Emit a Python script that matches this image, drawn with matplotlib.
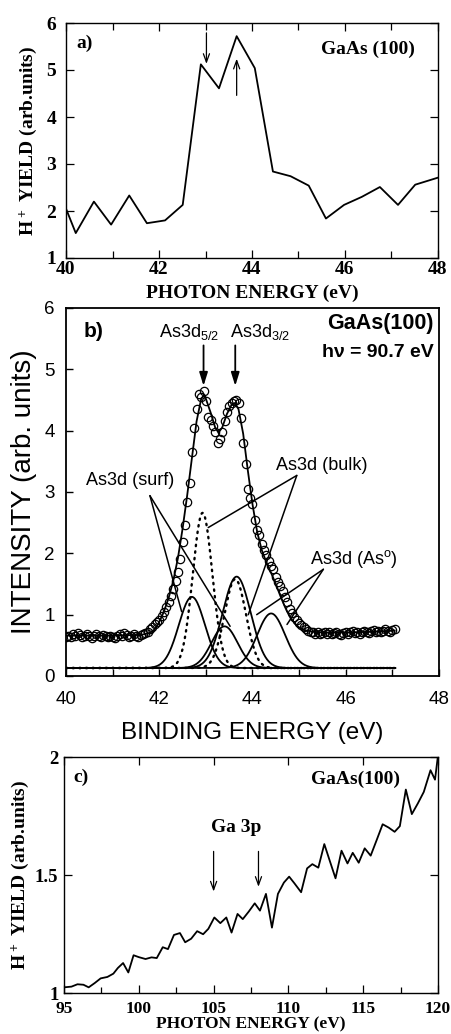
import numpy as np
import matplotlib
matplotlib.use("Agg")
import matplotlib.pyplot as plt
from matplotlib.ticker import MultipleLocator, FixedLocator, FixedFormatter

SERIF = "Liberation Serif"
SANS = "Liberation Sans"

# ---- a) H+ yield across the As 3d edge
a_energy = [40.0, 40.21, 40.6, 40.97, 41.36, 41.74, 42.13, 42.51, 42.9, 43.29, 43.67,
            44.06, 44.45, 44.83, 45.22, 45.59, 45.98, 46.36, 46.75, 47.14, 47.51, 48.0]
a_yield = [2.05, 1.53, 2.2, 1.71, 2.33, 1.74, 1.8, 2.13, 5.12, 4.61, 5.72,
           5.04, 2.84, 2.74, 2.54, 1.84, 2.13, 2.3, 2.51, 2.13, 2.56, 2.71]
a_arrows = [(43.02, 5.79, 5.13), (43.67, 4.46, 5.24)]   # x, from, to

# ---- b) As 3d core level, hv = 90.7 eV
b_start, b_step = 40.0, 0.05
b_counts = [
    0.63, 0.66, 0.64, 0.68, 0.66, 0.70, 0.67, 0.64, 0.66, 0.68,   # 40.00
    0.65, 0.62, 0.66, 0.68, 0.66, 0.64, 0.67, 0.65, 0.63, 0.66,   # 40.50
    0.64, 0.62, 0.65, 0.68, 0.66, 0.70, 0.67, 0.64, 0.66, 0.69,   # 41.00
    0.66, 0.64, 0.67, 0.69, 0.70, 0.72, 0.76, 0.80, 0.84, 0.88,   # 41.50
    0.92, 0.98, 1.05, 1.12, 1.20, 1.30, 1.42, 1.55, 1.70, 1.90,   # 42.00
    2.18, 2.46, 2.84, 3.15, 3.65, 4.05, 4.35, 4.60, 4.55, 4.65,   # 42.50
    4.48, 4.22, 4.18, 4.08, 3.98, 3.80, 3.86, 3.98, 4.15, 4.30,   # 43.00
    4.40, 4.45, 4.48, 4.50, 4.45, 4.20, 3.80, 3.45, 3.05, 2.90,   # 43.50
    2.80, 2.55, 2.38, 2.30, 2.15, 2.05, 1.97, 1.88, 1.80, 1.74,   # 44.00
    1.62, 1.53, 1.46, 1.38, 1.28, 1.20, 1.10, 1.02, 0.96, 0.91,   # 44.50
    0.87, 0.83, 0.80, 0.77, 0.74, 0.71, 0.72, 0.69, 0.71, 0.68,   # 45.00
    0.70, 0.72, 0.69, 0.71, 0.68, 0.70, 0.72, 0.69, 0.67, 0.70,   # 45.50
    0.72, 0.69, 0.71, 0.74, 0.70, 0.72, 0.69, 0.71, 0.74, 0.72,   # 46.00
    0.70, 0.73, 0.75, 0.72, 0.74, 0.71, 0.73, 0.76, 0.74, 0.72,   # 46.50
    0.75, 0.77,                                                   # 47.00
]
b_fit_x = [40.0, 41.0, 41.6, 41.8, 41.9, 42.0, 42.1, 42.2, 42.3, 42.4, 42.5, 42.6, 42.7,
           42.8, 42.9, 42.95, 43.0, 43.1, 43.2, 43.27, 43.35, 43.45, 43.55, 43.62, 43.7,
           43.8, 43.9, 44.0, 44.1, 44.2, 44.3, 44.4, 44.5, 44.6, 44.7, 44.8, 44.9, 45.0,
           45.1, 45.3, 45.6, 46.0, 46.5, 47.05]
b_fit_y = [0.66, 0.66, 0.67, 0.70, 0.76, 0.88, 1.05, 1.27, 1.55, 1.92, 2.40, 2.95, 3.55,
           4.15, 4.52, 4.57, 4.52, 4.30, 4.05, 3.97, 4.05, 4.27, 4.42, 4.45, 4.35,
           3.95, 3.35, 2.80, 2.35, 2.05, 1.85, 1.68, 1.50, 1.30, 1.12, 0.97, 0.86, 0.79,
           0.75, 0.72, 0.71, 0.71, 0.72, 0.74]
b_base = 0.13
b_comp_end = 47.06
# fitted components: centre (eV), height above base, gaussian sigma (eV), dotted?
b_comp_center = [42.70, 43.40, 42.93, 43.63, 43.66, 44.40]
b_comp_height = [1.16, 0.68, 2.53, 1.45, 1.49, 0.89]
b_comp_sigma = [0.28, 0.28, 0.21, 0.23, 0.30, 0.30]
b_comp_dotted = [False, False, True, True, False, False]

# ---- c) H+ yield across the Ga 3p edge
c_energy = [95.0, 95.5, 95.9, 96.3, 96.65, 97.05, 97.45, 97.9, 98.3, 98.6, 98.95, 99.3,
            99.65, 100.0, 100.45, 100.85, 101.2, 101.6, 101.95, 102.35, 102.75, 103.1,
            103.5, 103.9, 104.3, 104.65, 105.05, 105.45, 105.85, 106.2, 106.6, 106.95,
            107.35, 107.75, 108.1, 108.5, 108.9, 109.3, 109.7, 110.05, 110.4, 110.85,
            111.25, 111.6, 112.0, 112.4, 112.75, 113.15, 113.55, 113.95, 114.3, 114.7,
            115.1, 115.5, 115.9, 116.3, 116.7, 117.1, 117.45, 117.85, 118.25, 118.65,
            119.05, 119.5, 119.8, 120.0]
c_yield = [1.024, 1.027, 1.037, 1.035, 1.024, 1.042, 1.062, 1.068, 1.082, 1.106, 1.127, 1.087,
           1.16, 1.152, 1.144, 1.151, 1.148, 1.194, 1.186, 1.246, 1.254, 1.215,
           1.23, 1.262, 1.249, 1.272, 1.32, 1.296, 1.32, 1.256, 1.335, 1.313,
           1.345, 1.38, 1.349, 1.42, 1.277, 1.42, 1.468, 1.493, 1.465, 1.427,
           1.528, 1.546, 1.531, 1.631, 1.563, 1.486, 1.603, 1.549, 1.594, 1.552,
           1.613, 1.582, 1.648, 1.715, 1.701, 1.683, 1.707, 1.862, 1.758, 1.803,
           1.852, 1.944, 1.904, 2.007]
c_arrows = [(105.0, 1.60, 1.43), (108.0, 1.60, 1.45)]

plt.rcParams["font.family"] = SERIF
plt.rcParams["font.weight"] = "bold"
plt.rcParams["axes.labelweight"] = "bold"

fig = plt.figure(figsize=(4.52, 10.34), dpi=100)
W, H = 452.0, 1034.0


def box(left, top, right, bottom):
    return [left / W, 1 - bottom / H, (right - left) / W, (bottom - top) / H]


thin_arrow = dict(arrowstyle="->,head_length=0.6,head_width=0.22", color="k",
                  lw=0.9, shrinkA=0, shrinkB=0)
YLAB = "$\\mathregular{H^+}$ YIELD (arb.units)"

# ---------------- panel a
ax = fig.add_axes(box(66, 23, 438, 258))
ax.plot(a_energy, a_yield, color="k", lw=1.3)
ax.set_xlim(40, 48)
ax.set_ylim(1, 6)
ax.xaxis.set_major_locator(MultipleLocator(2))
ax.xaxis.set_minor_locator(MultipleLocator(1))
ax.yaxis.set_major_locator(MultipleLocator(1))
ax.tick_params(which="both", direction="in", top=True, right=True, width=0.9)
ax.tick_params(which="major", length=6, labelsize=14)
ax.tick_params(which="minor", length=5)
ax.tick_params(axis="x", pad=2)
ax.tick_params(axis="y", pad=7)
for s in ax.spines.values():
    s.set_linewidth(1.0)
ax.set_xlabel("PHOTON ENERGY (eV)", fontsize=14, labelpad=5)
ax.set_ylabel(YLAB, fontsize=14, labelpad=5)
for x, y0, y1 in a_arrows:
    ax.annotate("", xy=(x, y1), xytext=(x, y0), arrowprops=thin_arrow)
ax.text(40.23, 5.57, "a)", fontsize=14, ha="left", va="center")
ax.text(47.5, 5.45, "GaAs (100)", fontsize=14, ha="right", va="center")

# ---------------- panel b
bx = fig.add_axes(box(66, 308, 439, 676))
b_energy = np.round(b_start + b_step * np.arange(len(b_counts)), 2)
grid = np.linspace(b_start, b_comp_end, 600)
for c, h, s, dot in zip(b_comp_center, b_comp_height, b_comp_sigma, b_comp_dotted):
    prof = b_base + h * np.exp(-0.5 * ((grid - c) / s) ** 2)
    if dot:
        bx.plot(grid, prof, color="k", lw=1.7, linestyle=(0, (0.6, 2.2)),
                dash_capstyle="round")
    else:
        bx.plot(grid, prof, color="k", lw=1.3)
bx.plot(b_fit_x, b_fit_y, color="k", lw=1.3)
bx.plot(b_energy, b_counts, linestyle="none", marker="o", ms=6, mfc="none",
        mec="k", mew=0.9)
bx.set_xlim(40, 48)
bx.set_ylim(0, 6)
bx.xaxis.set_major_locator(MultipleLocator(2))
bx.xaxis.set_minor_locator(MultipleLocator(1))
bx.yaxis.set_major_locator(MultipleLocator(1))
bx.tick_params(which="both", direction="in", width=1.0)
bx.tick_params(which="major", length=5, labelsize=13.5)
bx.tick_params(which="minor", length=5)
bx.tick_params(axis="x", pad=11)
bx.tick_params(axis="y", pad=8)
plt.setp(bx.get_xticklabels() + bx.get_yticklabels(), family=SANS, weight="normal")
for s in bx.spines.values():
    s.set_linewidth(1.3)
bx.set_xlabel("BINDING ENERGY (eV)", fontsize=17.5, family=SANS, weight="normal",
              labelpad=10)
bx.set_ylabel("INTENSITY (arb. units)", fontsize=20, family=SANS, weight="normal",
              labelpad=5)

sans = dict(family=SANS, weight="normal", fontsize=13)
fat_arrow = dict(arrowstyle="-|>,head_length=0.8,head_width=0.25", color="k",
                 lw=1.3, shrinkA=0, shrinkB=0)
for x in (42.95, 43.63):
    bx.annotate("", xy=(x, 4.73), xytext=(x, 5.39), arrowprops=fat_arrow)
bx.text(42.63, 5.61, "As3d$\\mathregular{_{5/2}}$", ha="center", va="center", **sans)
bx.text(44.16, 5.61, "As3d$\\mathregular{_{3/2}}$", ha="center", va="center", **sans)
bx.text(40.37, 5.61, "b)", ha="left", va="center", family=SANS, weight="bold",
        fontsize=15)
bx.text(47.88, 5.75, "GaAs(100)", ha="right", va="center", family=SANS,
        weight="bold", fontsize=15.5)
bx.text(47.88, 5.28, "h\u03bd = 90.7 eV", ha="right", va="center", family=SANS,
        weight="bold", fontsize=14)

leader = dict(arrowstyle="-", color="k", lw=1.1, shrinkA=0, shrinkB=0)
b_labels = [
    ("As3d (surf)", (41.37, 3.18), (41.80, 2.94), [(42.48, 1.05), (43.52, 0.81)]),
    ("As3d (bulk)", (45.49, 3.43), (44.95, 3.27), [(43.05, 2.42), (43.91, 1.00)]),
    ("As3d (As$\\mathregular{^o}$)", (46.17, 1.90), (45.52, 1.74),
     [(44.09, 1.00), (44.74, 0.84)]),
]
for txt, tpos, start, ends in b_labels:
    bx.text(tpos[0], tpos[1], txt, ha="center", va="center", **sans)
    for e in ends:
        bx.annotate("", xy=e, xytext=start, arrowprops=leader)

# ---------------- panel c
cx = fig.add_axes(box(64, 757, 438, 993))
cx.plot(c_energy, c_yield, color="k", lw=1.3)
cx.set_xlim(95, 120)
cx.set_ylim(1, 2)
cx.xaxis.set_major_locator(MultipleLocator(5))
cx.xaxis.set_minor_locator(MultipleLocator(2.5))
cx.yaxis.set_major_locator(FixedLocator([1, 1.5, 2]))
cx.yaxis.set_major_formatter(FixedFormatter(["1", "1.5", "2"]))
cx.tick_params(which="both", direction="in", top=True, right=True, width=0.9)
cx.tick_params(which="major", length=6, labelsize=12.5)
cx.tick_params(which="minor", length=4, top=False)
cx.tick_params(axis="x", pad=5.5, labelsize=12.5)
cx.tick_params(axis="y", pad=4, labelsize=13.5)
for s in cx.spines.values():
    s.set_linewidth(1.0)
cx.set_xlabel("PHOTON ENERGY (eV)", fontsize=12.5, labelpad=0)
cx.set_ylabel(YLAB, fontsize=14, labelpad=3)
for x, y0, y1 in c_arrows:
    cx.annotate("", xy=(x, y1), xytext=(x, y0), arrowprops=thin_arrow)
cx.text(106.48, 1.70, "Ga 3p", fontsize=14, ha="center", va="center")
cx.text(95.6, 1.913, "c)", fontsize=14, ha="left", va="center")
cx.text(117.44, 1.904, "GaAs(100)", fontsize=14, ha="right", va="center")

fig.savefig("out.png", dpi=100)
